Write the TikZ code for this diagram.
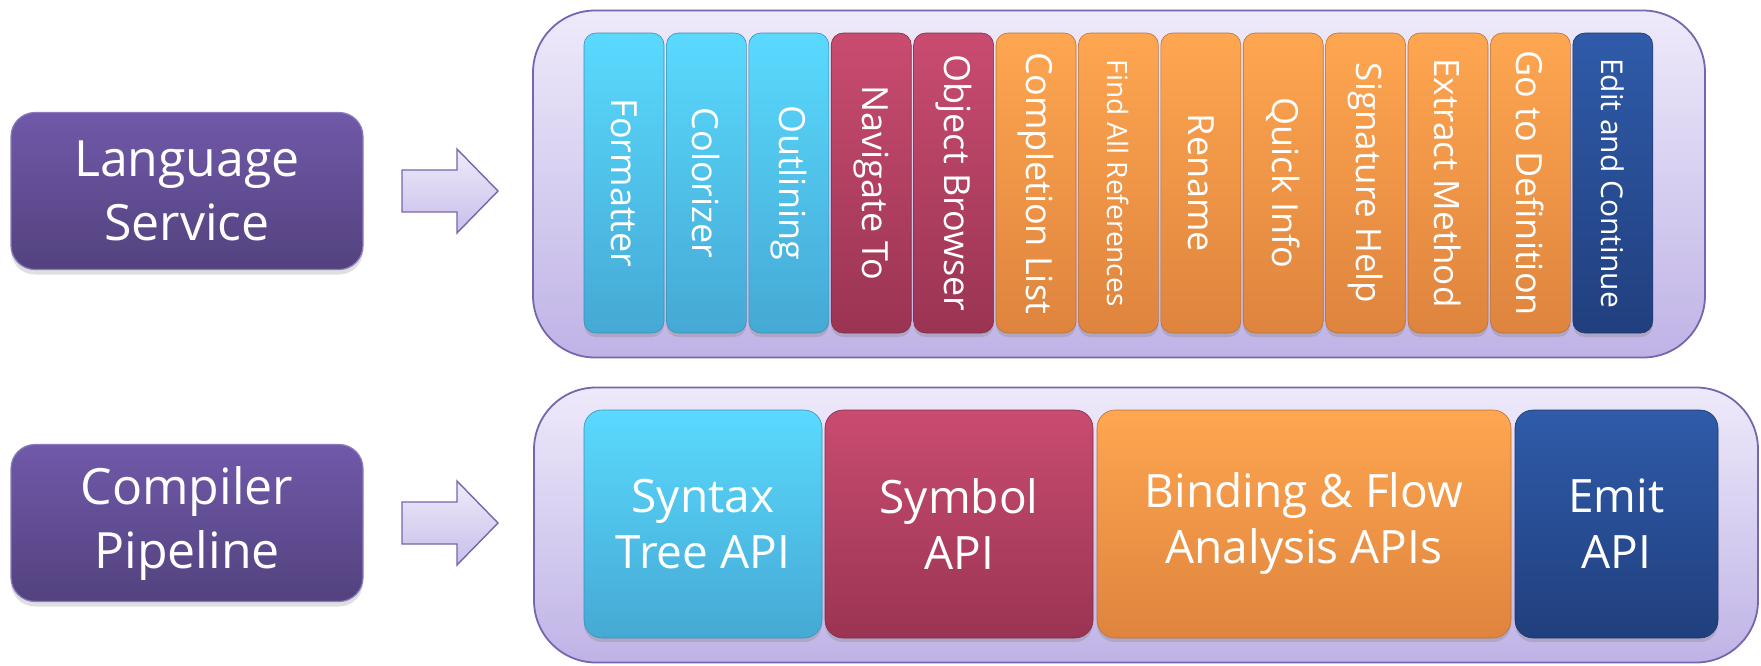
\documentclass[tikz,border=0pt]{standalone}
\usepackage{fontspec}
\setmainfont{Open Sans}
\usetikzlibrary{shadows}

\definecolor{svctop}{HTML}{7059A9}
\definecolor{svcbot}{HTML}{53427E}
\definecolor{svcedge}{HTML}{8A7BC0}
\definecolor{traytop}{HTML}{EEEAFA}
\definecolor{traybot}{HTML}{BFB3E6}
\definecolor{trayedge}{HTML}{7566AE}
\definecolor{cytop}{HTML}{5AD9FE}
\definecolor{cybot}{HTML}{45A9D4}
\definecolor{crtop}{HTML}{C94C70}
\definecolor{crbot}{HTML}{9A3452}
\definecolor{ortop}{HTML}{FEA650}
\definecolor{orbot}{HTML}{DE843E}
\definecolor{nvtop}{HTML}{2F5BA9}
\definecolor{nvbot}{HTML}{213F7E}

\newcommand{\blockarrow}[1]{\draw[arrowshape, shift={(#1)}] (-48,-21) -- (7,-21) -- (7,-42) -- (48,0) -- (7,42) -- (7,21) -- (-48,21) -- cycle;}

\tikzset{
	svcbox/.style={rounded corners=24pt, draw=svcedge, line width=1.2pt, top color=svctop, bottom color=svcbot,
		minimum width=352pt, minimum height=157pt, inner sep=0pt, align=center, text=white,
		font=\fontsize{50}{64}\selectfont, drop shadow={opacity=0.25, shadow xshift=0pt, shadow yshift=-5pt}},
	tray/.style={rounded corners=62pt, draw=trayedge, line width=1.8pt, top color=traytop, bottom color=traybot, inner sep=0pt},
	bar/.style={rounded corners=12pt, inner sep=0pt, draw=#1bot!85!black, line width=0.6pt, top color=#1top, bottom color=#1bot,
		drop shadow={opacity=0.3, shadow xshift=0pt, shadow yshift=-4pt}},
	barlabel/.style={rotate=-90, text=white, inner sep=0pt},
	apibox/.style={bar=#1, rounded corners=18pt, minimum height=228pt, align=center, text=white, font=\fontsize{46}{56}\selectfont},
	arrowshape/.style={draw=trayedge, line width=1.4pt, top color=traytop, bottom color=traybot!85!white},
}

\begin{document}
\begin{tikzpicture}[x=1pt,y=-1pt]
	\useasboundingbox (0,0) rectangle (1761,665);
	
	%%%%% LANGUAGE SERVICE %%%%%
	\node[svcbox] (lsvc) at (187,191) {Language\\Service};
	\node[tray, minimum width=1172pt, minimum height=347pt] (lstray) at (1119,184) {};
	\coordinate (larr) at (450,191);
	\blockarrow{larr}
	
	\foreach \lbl/\tone/\sz [count=\i from 0] in {Formatter/cy/36, Colorizer/cy/36, Outlining/cy/36,
		Navigate To/cr/36, Object Browser/cr/36, Completion List/or/36, Find All References/or/28,
		Rename/or/36, Quick Info/or/36, Signature Help/or/35, Extract Method/or/35,
		Go to Definition/or/36, Edit and Continue/nv/30}{
		\node[bar=\tone, minimum width=80pt, minimum height=300pt] (feat\i) at (624+82.4*\i,183) {};
		\node[barlabel, font=\fontsize{\sz}{\sz}\selectfont] (featlbl\i) at (feat\i) {\lbl};
	}
	
	%%%%% COMPILER PIPELINE %%%%%
	\node[svcbox] (comp) at (187,523) {Compiler\\Pipeline};
	\node[tray, minimum width=1224pt, minimum height=275pt] (comptray) at (1146,525) {};
	\coordinate (carr) at (450,523);
	\blockarrow{carr}
	
	\node[apibox=cy, minimum width=238pt] (syntax) at (703,524) {Syntax\\Tree API};
	\node[apibox=cr, minimum width=268pt] (symbol) at (959,524) {Symbol\\API};
	\node[apibox=or, minimum width=414pt] (binding) at (1304,524) {Binding \& Flow\\Analysis APIs};
	\node[apibox=nv, minimum width=203pt] (emit) at (1616.5,524) {Emit\\API};
	
\end{tikzpicture}
\end{document}
